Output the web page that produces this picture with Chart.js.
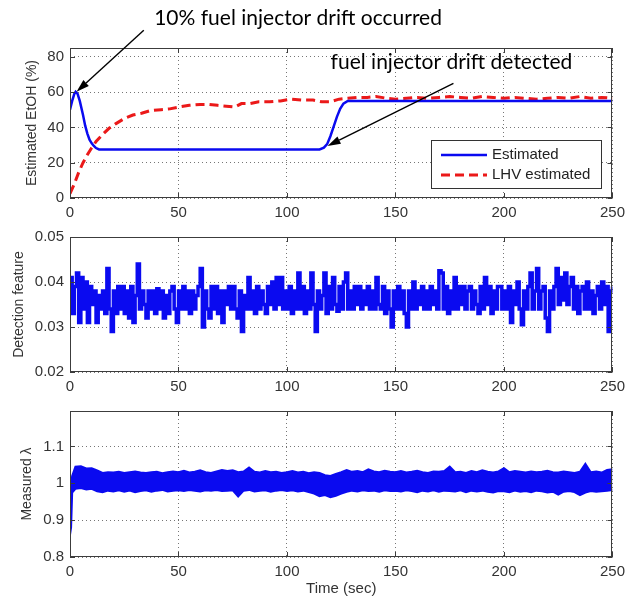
<!DOCTYPE html>
<html>
<head>
<meta charset="utf-8">
<title>Fuel injector drift</title>
<script src="https://cdn.jsdelivr.net/npm/chart.js@4.4.0/dist/chart.umd.min.js"></script>
<style>
  body { margin: 0; background: #fff; }
  #wrap { position: relative; width: 631px; height: 598px; }
  #wrap canvas { position: absolute; left: 0; }
</style>
</head>
<body>
<div id="wrap">
  <canvas id="etohChart"></canvas>
  <canvas id="featureChart"></canvas>
  <canvas id="lambdaChart"></canvas>
</div>
<script>
// shared time axis (sec)
const timeTicks = [0, 50, 100, 150, 200, 250];

// Estimated EtOH (%)
const etohTicks = [0, 20, 40, 60, 80];
const estTime = [0, 1, 2, 2.6, 3.5, 4.5, 6, 7, 8, 9, 10, 11, 12, 13.4, 115, 117, 118.5, 120, 121.5, 123, 124.5, 126, 128, 250];
const estValues = [50, 55, 59, 60.2, 59, 55, 47, 41, 36.5, 33, 31, 29.5, 28.3, 27.5, 27.5, 28.5, 30.5, 35, 40.5, 46, 50.5, 53.5, 55, 55];
const lhvTime = [0, 2, 4, 6, 8, 10, 12, 15, 18, 21, 25, 29, 33, 37, 42, 46, 50, 55, 60, 64, 68, 72, 76, 79, 83, 87, 92, 97,
  102, 107, 112, 116, 120, 124, 128, 133, 137, 141, 146, 150, 155, 160, 165, 170, 175, 180, 185, 190, 195, 200,
  205, 210, 215, 220, 225, 230, 235, 240, 245, 250];
const lhvValues = [2.5, 8, 14.5, 20, 24.5, 28.5, 32, 36, 39.5, 42, 45, 47, 48, 49.5, 50, 50.5, 51.5, 52.5, 53, 53, 52.5, 52, 51.5, 53.5, 53.5, 54.5, 54.5, 55,
  56, 55.5, 55.5, 54.5, 54.5, 56, 56.5, 57, 57, 57.5, 56.5, 56, 56.5, 57, 56.5, 57, 57.5, 57, 56.5, 57.5, 57, 56.5,
  57, 56.5, 56, 56.5, 57, 56.5, 57.5, 56.5, 57, 56.5];

// Detection feature, one sample per second from 0 to 250
const featureTicks = [0.02, 0.03, 0.04, 0.05];
const featureValues = [
  0.041, 0.033, 0.039, 0.042, 0.031, 0.041, 0.034, 0.040, 0.031, 0.039,
  0.035, 0.038, 0.031, 0.037, 0.034, 0.038, 0.033, 0.043, 0.034, 0.029,
  0.038, 0.033, 0.039, 0.034, 0.039, 0.033, 0.038, 0.032, 0.039, 0.031,
  0.037, 0.044, 0.034, 0.038, 0.035, 0.032, 0.038, 0.034, 0.038, 0.033,
  0.0385, 0.034, 0.038, 0.032, 0.037, 0.033, 0.038, 0.039, 0.034, 0.031,
  0.038, 0.034, 0.039, 0.034, 0.038, 0.033, 0.038, 0.034, 0.037, 0.039,
  0.043, 0.030, 0.038, 0.034, 0.032, 0.039, 0.034, 0.039, 0.033, 0.038,
  0.031, 0.038, 0.035, 0.039, 0.034, 0.039, 0.034, 0.032, 0.038, 0.029,
  0.037, 0.034, 0.041, 0.034, 0.038, 0.033, 0.039, 0.034, 0.038, 0.035,
  0.033, 0.039, 0.035, 0.040, 0.034, 0.041, 0.035, 0.041, 0.034, 0.038,
  0.034, 0.039, 0.033, 0.038, 0.034, 0.042, 0.034, 0.039, 0.033, 0.038,
  0.034, 0.042, 0.035, 0.029, 0.038, 0.034, 0.037, 0.042, 0.033, 0.039,
  0.034, 0.041, 0.035, 0.0335, 0.039, 0.034, 0.040, 0.042, 0.034, 0.038,
  0.034, 0.039, 0.035, 0.039, 0.034, 0.038, 0.035, 0.039, 0.034, 0.038,
  0.034, 0.041, 0.035, 0.034, 0.039, 0.033, 0.038, 0.034, 0.030, 0.038,
  0.034, 0.039, 0.034, 0.038, 0.033, 0.030, 0.038, 0.034, 0.040, 0.034,
  0.038, 0.035, 0.039, 0.034, 0.038, 0.034, 0.039, 0.035, 0.038, 0.034,
  0.0425, 0.042, 0.034, 0.039, 0.033, 0.038, 0.034, 0.041, 0.034, 0.039,
  0.035, 0.039, 0.034, 0.038, 0.039, 0.034, 0.038, 0.035, 0.033, 0.039,
  0.034, 0.041, 0.035, 0.039, 0.033, 0.038, 0.034, 0.039, 0.039, 0.034,
  0.038, 0.034, 0.039, 0.031, 0.038, 0.035, 0.040, 0.034, 0.0305, 0.038,
  0.034, 0.039, 0.042, 0.034, 0.038, 0.043, 0.034, 0.038, 0.039, 0.032,
  0.029, 0.038, 0.034, 0.039, 0.043, 0.035, 0.041, 0.036, 0.042, 0.035,
  0.039, 0.041, 0.034, 0.039, 0.033, 0.038, 0.039, 0.034, 0.040, 0.034,
  0.038, 0.033, 0.037, 0.039, 0.034, 0.040, 0.035, 0.039, 0.029, 0.038,
  0.039
];

// Measured lambda: top and bottom edge of the noisy trace
const lambdaTicks = [0.8, 0.9, 1, 1.1];
const lambdaTime = [0, 0.5, 1, 2.5, 5, 7.5, 10, 12.5, 15, 17.5,
  20, 22.5, 25, 27.5, 30, 32.5, 35, 37.5, 40, 42.5,
  45, 47.5, 50, 52.5, 55, 57.5, 60, 62.5, 65, 67.5,
  70, 72.5, 75, 77.5, 80, 82.5, 85, 87.5, 90, 92.5,
  95, 97.5, 100, 102.5, 105, 107.5, 110, 112.5, 115, 117.5,
  120, 122.5, 125, 127.5, 130, 132.5, 135, 137.5, 140, 142.5,
  145, 147.5, 150, 152.5, 155, 157.5, 160, 162.5, 165, 167.5,
  170, 172.5, 175, 177.5, 180, 182.5, 185, 187.5, 190, 192.5,
  195, 197.5, 200, 202.5, 205, 207.5, 210, 212.5, 215, 217.5,
  220, 222.5, 225, 227.5, 230, 232.5, 235, 237.5, 240, 242.5,
  245, 247.5, 250];
const lambdaUpper = [0.93, 1.0, 1.02, 1.045, 1.046, 1.04, 1.041, 1.035, 1.028, 1.03,
  1.029, 1.031, 1.028, 1.03, 1.032, 1.029, 1.028, 1.03, 1.031, 1.027,
  1.03, 1.032, 1.03, 1.034, 1.029, 1.031, 1.035, 1.03, 1.028, 1.032,
  1.036, 1.033, 1.035, 1.03, 1.032, 1.043, 1.031, 1.029, 1.033, 1.03,
  1.031, 1.028, 1.03, 1.033, 1.029, 1.031, 1.027, 1.03, 1.028, 1.022,
  1.02, 1.025, 1.03, 1.036, 1.031, 1.033, 1.03, 1.038, 1.032, 1.03,
  1.034, 1.031, 1.03, 1.033, 1.029, 1.031, 1.034, 1.03, 1.028, 1.032,
  1.031, 1.033, 1.045, 1.03, 1.031, 1.028, 1.033, 1.03, 1.035, 1.031,
  1.029, 1.032, 1.041, 1.03, 1.033, 1.031, 1.029, 1.032, 1.03, 1.031,
  1.034, 1.03, 1.029, 1.032, 1.03, 1.028, 1.031, 1.053, 1.03, 1.032,
  1.029, 1.036, 1.038];
const lambdaLower = [0.86, 0.88, 0.975, 0.985, 0.987, 0.983, 0.985, 0.978, 0.976, 0.98,
  0.978, 0.981, 0.977, 0.98, 0.976, 0.979, 0.981, 0.977, 0.98, 0.982,
  0.978, 0.98, 0.981, 0.979, 0.982, 0.98, 0.978, 0.981, 0.98, 0.982,
  0.979, 0.98, 0.981, 0.964, 0.98, 0.982, 0.978, 0.98, 0.981, 0.977,
  0.98, 0.982, 0.979, 0.981, 0.978, 0.98, 0.976, 0.972, 0.965, 0.968,
  0.962, 0.966, 0.972, 0.977, 0.98, 0.978, 0.981, 0.979, 0.98, 0.977,
  0.981, 0.979, 0.98, 0.978, 0.981, 0.979, 0.976, 0.98, 0.978, 0.981,
  0.977, 0.98, 0.979, 0.978, 0.981, 0.976, 0.98, 0.978, 0.98, 0.977,
  0.975, 0.979, 0.978, 0.976, 0.98, 0.977, 0.979, 0.976, 0.98, 0.978,
  0.975, 0.977, 0.969, 0.977, 0.979, 0.976, 0.968, 0.975, 0.979, 0.977,
  0.978, 0.98, 0.982];

const BLUE = 'rgb(10, 10, 240)';
const RED = 'rgb(235, 25, 25)';

Chart.defaults.font.family = "'Liberation Sans', Arial, sans-serif";
Chart.defaults.color = '#333';

function toPoints(xs, ys) {
  return xs.map((x, i) => ({ x: x, y: ys[i] }));
}

// frame round the plot area plus the small inward ticks
const axesBox = {
  id: 'axesBox',
  afterDatasetsDraw(chart) {
    const { ctx, chartArea: a, scales } = chart;
    ctx.save();
    ctx.strokeStyle = '#3c3c3c';
    ctx.lineWidth = 1;
    ctx.beginPath();
    scales.x.ticks.forEach(t => {
      const px = Math.round(scales.x.getPixelForValue(t.value)) + 0.5;
      ctx.moveTo(px, a.bottom); ctx.lineTo(px, a.bottom - 5);
      ctx.moveTo(px, a.top); ctx.lineTo(px, a.top + 5);
    });
    scales.y.ticks.forEach(t => {
      const py = Math.round(scales.y.getPixelForValue(t.value)) + 0.5;
      ctx.moveTo(a.left, py); ctx.lineTo(a.left + 5, py);
      ctx.moveTo(a.right, py); ctx.lineTo(a.right - 5, py);
    });
    ctx.stroke();
    ctx.strokeRect(Math.round(a.left) + 0.5, Math.round(a.top) + 0.5, Math.round(a.width) - 1, Math.round(a.height) - 1);
    ctx.restore();
  }
};

// boxed legend in the lower right corner of the plot
const boxLegend = {
  id: 'boxLegend',
  afterDatasetsDraw(chart, args, opts) {
    if (!opts.show) return;
    const { ctx, chartArea: a } = chart;
    const left = Math.round(a.right - opts.right - opts.width);
    const top = Math.round(a.bottom - opts.bottom - opts.height);
    ctx.save();
    ctx.fillStyle = '#fff';
    ctx.fillRect(left, top, opts.width, opts.height);
    ctx.strokeStyle = '#333';
    ctx.lineWidth = 1;
    ctx.strokeRect(left + 0.5, top + 0.5, opts.width, opts.height);
    ctx.font = opts.font;
    ctx.textBaseline = 'middle';
    chart.data.datasets.forEach((ds, i) => {
      const yy = top + opts.rowTop + i * opts.rowGap;
      ctx.strokeStyle = ds.borderColor;
      ctx.lineWidth = ds.borderWidth;
      ctx.setLineDash(ds.borderDash || []);
      ctx.beginPath();
      ctx.moveTo(left + 10, yy);
      ctx.lineTo(left + 56, yy);
      ctx.stroke();
      ctx.setLineDash([]);
      ctx.fillStyle = '#222';
      ctx.fillText(ds.label, left + 61, yy);
    });
    ctx.restore();
  }
};

// text callouts with arrows, placed in data units
const driftNotes = {
  id: 'driftNotes',
  afterDraw(chart, args, opts) {
    if (!opts.notes) return;
    const { ctx, scales: { x, y } } = chart;
    ctx.save();
    ctx.fillStyle = '#000';
    ctx.strokeStyle = '#000';
    ctx.lineWidth = 1.4;
    ctx.font = opts.font;
    ctx.textBaseline = 'middle';
    opts.notes.forEach(n => {
      ctx.fillText(n.text, x.getPixelForValue(n.textAt[0]), y.getPixelForValue(n.textAt[1]));
      const x0 = x.getPixelForValue(n.from[0]), y0 = y.getPixelForValue(n.from[1]);
      const x1 = x.getPixelForValue(n.to[0]), y1 = y.getPixelForValue(n.to[1]);
      const ang = Math.atan2(y1 - y0, x1 - x0);
      const head = 13, half = 4;
      const bx = x1 - head * Math.cos(ang), by = y1 - head * Math.sin(ang);
      ctx.beginPath();
      ctx.moveTo(x0, y0);
      ctx.lineTo(bx, by);
      ctx.stroke();
      ctx.beginPath();
      ctx.moveTo(x1, y1);
      ctx.lineTo(bx + half * Math.sin(ang), by - half * Math.cos(ang));
      ctx.lineTo(bx - half * Math.sin(ang), by + half * Math.cos(ang));
      ctx.closePath();
      ctx.fill();
    });
    ctx.restore();
  }
};

function makePanel(id, panel, datasets, yAxis, xTitle, pluginOpts) {
  const canvas = document.getElementById(id);
  canvas.width = 631;
  canvas.height = panel.height;
  canvas.style.top = panel.top + 'px';
  const tickFont = { size: 15 };
  return new Chart(canvas, {
    type: 'line',
    data: { datasets: datasets },
    plugins: [axesBox, boxLegend, driftNotes],
    options: {
      responsive: false,
      animation: false,
      layout: { padding: { top: panel.areaTop - panel.top, right: 13, left: 0, bottom: 0 } },
      elements: { point: { radius: 0 }, line: { tension: 0 } },
      plugins: Object.assign({ legend: { display: false }, tooltip: { enabled: false } }, pluginOpts),
      scales: {
        x: {
          type: 'linear',
          min: 0,
          max: 250,
          afterBuildTicks: s => { s.ticks = timeTicks.map(v => ({ value: v })); },
          afterFit: s => { s.height = panel.top + panel.height - panel.areaBottom; },
          grid: { color: 'rgba(60,60,60,0.7)', drawTicks: false },
          border: { display: false, dash: [1, 3] },
          ticks: { font: tickFont, padding: 6, maxRotation: 0, autoSkip: false, color: '#333' },
          title: {
            display: !!xTitle,
            text: xTitle || '',
            font: { size: 15 },
            color: '#333',
            padding: { top: 0, bottom: 0 }
          }
        },
        y: {
          type: 'linear',
          min: yAxis.min,
          max: yAxis.max,
          afterBuildTicks: s => { s.ticks = yAxis.ticks.map(v => ({ value: v })); },
          afterFit: s => { s.width = 70; },
          grid: { color: 'rgba(60,60,60,0.7)', drawTicks: false },
          border: { display: false, dash: [1, 3] },
          ticks: { font: tickFont, padding: 6, color: '#333', callback: yAxis.format },
          title: {
            display: true,
            text: yAxis.title,
            font: { size: 14 },
            color: '#333',
            padding: { top: yAxis.titleGap, bottom: 0 }
          }
        }
      }
    }
  });
}

// top panel: EtOH estimate
makePanel('etohChart',
  { top: 0, height: 222, areaTop: 48, areaBottom: 198 },
  [
    { label: 'Estimated', data: toPoints(estTime, estValues), borderColor: BLUE, borderWidth: 2.5 },
    { label: 'LHV estimated', data: toPoints(lhvTime, lhvValues), borderColor: RED, borderWidth: 3, borderDash: [9, 5] }
  ],
  { min: 0, max: 85, ticks: etohTicks, format: v => String(v), title: 'Estimated EtOH (%)', titleGap: 24 },
  null,
  {
    boxLegend: { show: true, width: 170, height: 48, right: 11, bottom: 10, rowTop: 15, rowGap: 20, font: "15px 'Liberation Sans', Arial, sans-serif" },
    driftNotes: {
      font: "21px Lato, 'Open Sans', sans-serif",
      notes: [
        { text: '10% fuel injector drift occurred', textAt: [38.8, 102], from: [34, 95], to: [3, 60.2] },
        { text: 'fuel injector drift detected', textAt: [120.1, 77], from: [176.7, 65], to: [118.7, 29.5] }
      ]
    }
  }
);

// middle panel: detection feature
makePanel('featureChart',
  { top: 222, height: 174, areaTop: 232, areaBottom: 372 },
  [
    { label: 'Detection feature', data: featureValues.map((v, i) => ({ x: i, y: v })), borderColor: BLUE, borderWidth: 3.5, stepped: true }
  ],
  { min: 0.02, max: 0.05, ticks: featureTicks, format: v => v.toFixed(2), title: 'Detection feature', titleGap: 11 },
  null,
  {}
);

// bottom panel: measured lambda, drawn as a filled band between its edges
makePanel('lambdaChart',
  { top: 396, height: 202, areaTop: 410, areaBottom: 557 },
  [
    { label: 'upper', data: toPoints(lambdaTime, lambdaUpper), borderColor: BLUE, backgroundColor: BLUE, borderWidth: 2, fill: '+1' },
    { label: 'lower', data: toPoints(lambdaTime, lambdaLower), borderColor: BLUE, borderWidth: 2, fill: false }
  ],
  { min: 0.8, max: 1.196, ticks: lambdaTicks, format: v => String(v), title: 'Measured \u03bb', titleGap: 19 },
  'Time (sec)',
  {}
);
</script>
</body>
</html>
